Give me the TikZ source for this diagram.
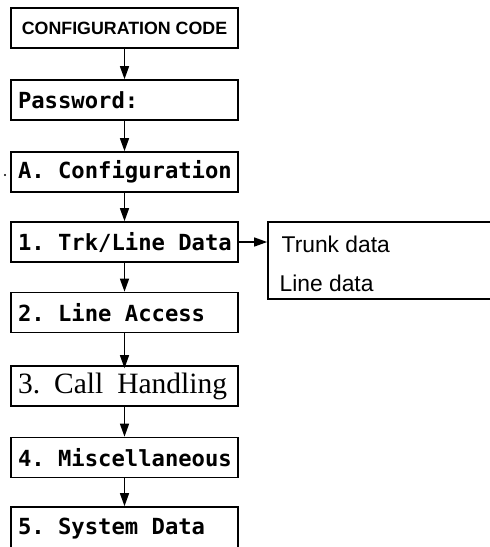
\documentclass[tikz,border=0pt]{standalone}
\usepackage{fontspec}
\setmainfont{Liberation Sans}
\newfontfamily\lcdfont{DejaVu Sans Mono}[WordSpace={1,0,0}]
\newfontfamily\serffont{Liberation Serif}
\usetikzlibrary{arrows.meta}
\newcommand\lcdtext[1]{\makebox[213pt][l]{#1}}
\newcommand\ls{\kern0.602em\relax}
\begin{document}
\begin{tikzpicture}[x=1pt,y=-1pt,
  lcdbox/.style={draw, line width=1.7pt, minimum height=40pt, inner xsep=7pt, inner ysep=0pt,
    minimum width=227pt, font=\lcdfont\bfseries\fontsize{22.2}{24}\selectfont},
  arr/.style={line width=1.4pt, -{Triangle[length=13pt,width=9pt]}},
  sidetext/.style={anchor=west, inner sep=0pt, font=\fontsize{22.8}{24}\selectfont}
]
\path[use as bounding box, clip] (0,0) rectangle (490,547);
\node[lcdbox, font=\bfseries\fontsize{17.8}{19}\selectfont] (b1) at (124.5,28) {CONFIGURATION CODE};
\node[lcdbox] (b2) at (124.5,100) {\lcdtext{Password:}};
\node[lcdbox] (b3) at (124.5,172) {\lcdtext{A.\ls Configuration}};
\node[lcdbox] (b4) at (124.5,242) {\lcdtext{1.\ls Trk/Line\ls Data}};
\node[lcdbox] (b5) at (124.5,312.5) {\lcdtext{2.\ls Line\ls Access}};
\node[lcdbox, font=\serffont\fontsize{29.5}{31}\selectfont] (b6) at (124.5,386) {\lcdtext{3.\hspace{14pt}Call\hspace{14pt}Handling}};
\node[lcdbox] (b7) at (124.5,457.5) {\lcdtext{4.\ls Miscellaneous}};
\node[lcdbox, minimum height=44pt] (b8) at (124.5,529) {\lcdtext{5.\ls System\ls Data}};
% side box, open to the right
\node[draw, line width=1.7pt, minimum width=240pt, minimum height=77pt, inner sep=0pt] (rb) at (388,260.5) {};
\node[sidetext] (trunk) at (281.5,244) {Trunk data};
\node[sidetext] (line) at (279.5,283) {Line data};
% connectors
\draw[arr] (b1.south) -- (b2.north);
\draw[arr] (b2.south) -- (b3.north);
\draw[arr] (b3.south) -- (b4.north);
\draw[arr] (b4.south) -- (b5.north);
\draw[arr] (b5.south) -- ([yshift=-3pt]b6.north);
\draw[arr] (b6.south) -- (b7.north);
\draw[arr] (b7.south) -- (b8.north);
\draw[arr] (b4.east) -- (b4.east -| rb.west);
% stray dot
\fill (5,175) circle (1.1pt);
\end{tikzpicture}
\end{document}
